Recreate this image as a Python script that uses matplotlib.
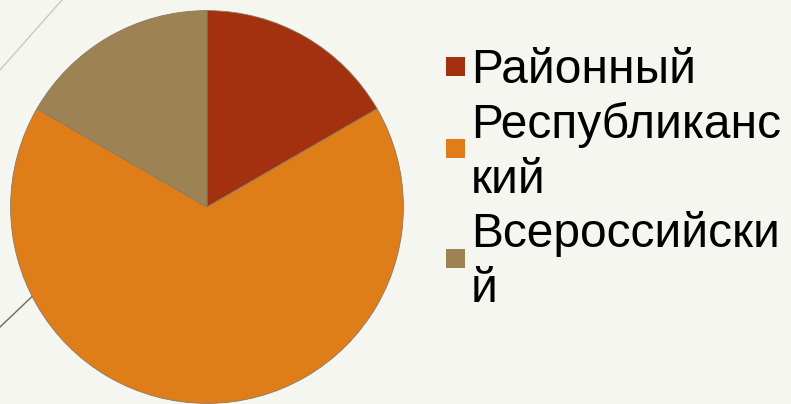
import matplotlib
matplotlib.use("Agg")
import matplotlib.pyplot as plt
from matplotlib.patches import Rectangle
from matplotlib.lines import Line2D

categories = ["Районный", "Республиканский", "Всероссийский"]
values = [1, 4, 1]
legend_labels = ["Районный", "Республиканс\nкий", "Всероссийски\nй"]
colors = ["#A3310F", "#DF7D19", "#9D8253"]

W, H = 791, 404
fig = plt.figure(figsize=(W / 100, H / 100), dpi=100)
fig.patch.set_facecolor("#F4F6EF")

def fx(x):
    return x / W

def fy(y):
    return 1 - y / H

# decorative lines
fig.add_artist(Line2D([fx(62), fx(0)], [fy(0), fy(70)], color="#C8CAC2", lw=1.0, zorder=0))
fig.add_artist(Line2D([fx(0), fx(60)], [fy(327), fy(270)], color="#6E6A5C", lw=1.0, zorder=0))

cx, cy, r = 207, 207, 197
ax = fig.add_axes([fx(cx - r), fy(cy + r), 2 * r / W, 2 * r / H])
ax.set_zorder(1)
ax.pie(values, colors=colors, startangle=90, counterclock=False,
       wedgeprops=dict(edgecolor="#8A7A66", linewidth=0.6))
ax.set_xlim(-1.003, 1.003)
ax.set_ylim(-1.003, 1.003)
ax.set_aspect("equal")
ax.axis("off")

# legend (manual)
text_x = 471
line_h = 54.8
baseline0 = 83
fs = 34.5
sq = 19
line_idx = 0
for label, col in zip(legend_labels, colors):
    lines = label.split("\n")
    top = baseline0 + line_idx * line_h - 33
    bottom = baseline0 + (line_idx + len(lines) - 1) * line_h
    center = (top + bottom) / 2
    for ln in lines:
        fig.text(fx(text_x), fy(baseline0 + line_idx * line_h), ln,
                 fontsize=fs, family="Liberation Sans", color="#000000",
                 ha="left", va="baseline")
        line_idx += 1
    fig.add_artist(Rectangle((fx(446), fy(center + sq / 2)), sq / W, sq / H,
                             transform=fig.transFigure, facecolor=col,
                             edgecolor="none"))

fig.savefig("out.png", dpi=100, facecolor=fig.get_facecolor())
